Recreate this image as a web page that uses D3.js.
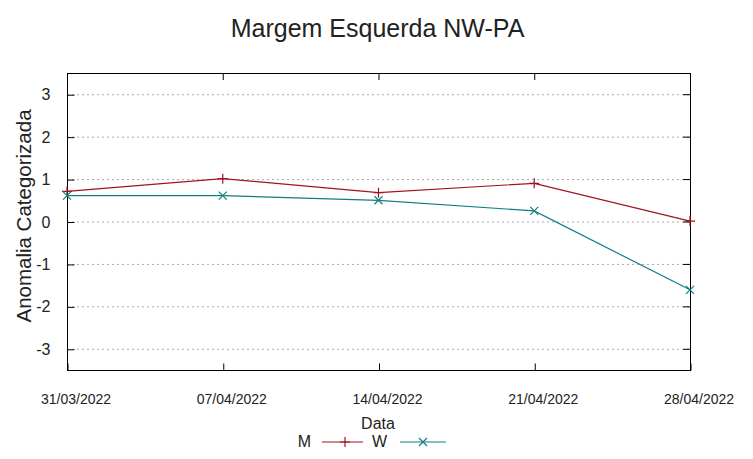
<!DOCTYPE html>
<html>
<head>
<meta charset="utf-8">
<script src="https://cdn.jsdelivr.net/npm/d3@7"></script>
<style>
body{margin:0;background:#fff;}
text{font-family:"Liberation Sans",Arial,sans-serif;fill:#222;}
</style>
</head>
<body>
<div id="grafico"></div>
<script>
// dados
const datas = ["31/03/2022","07/04/2022","14/04/2022","21/04/2022","28/04/2022"];
const serieM = [0.71, 1.01, 0.68, 0.90, 0.01];
const serieW = [0.61, 0.61, 0.50, 0.25, -1.61];
const yTicks = [-3,-2,-1,0,1,2,3];

const W = 753, H = 459;
const mg = {l:67, r:63, t:73, b:89};

const svg = d3.select("#grafico").append("svg").attr("width",W).attr("height",H);

const parse = d3.timeParse("%d/%m/%Y");
const x = d3.scaleTime().domain(d3.extent(datas, parse)).range([mg.l, W-mg.r]);
const y = d3.scaleLinear().domain([-3.5,3.5]).range([H-mg.b, mg.t]);

// grade horizontal
svg.append("g").selectAll("line").data(yTicks).join("line")
  .attr("x1",mg.l).attr("x2",W-mg.r)
  .attr("y1",d=>y(d)+0.5).attr("y2",d=>y(d)+0.5)
  .attr("stroke","#aaa").attr("stroke-dasharray","2,3");

// eixo y esquerdo e direito (ticks para dentro, estilo gnuplot)
const gy = svg.append("g").attr("transform","translate("+(mg.l+0.5)+",0.5)")
  .call(d3.axisLeft(y).tickValues(yTicks).tickSize(-7).tickPadding(17).tickFormat(d=>String(d)));
gy.select(".domain").remove();
gy.selectAll("text").attr("font-size",16).attr("font-family","Liberation Sans, Arial, sans-serif").attr("fill","#222");
gy.selectAll("line").attr("stroke","#000");

svg.append("g").selectAll("line").data(yTicks).join("line")
  .attr("x1",W-mg.r-7).attr("x2",W-mg.r).attr("y1",d=>y(d)+0.5).attr("y2",d=>y(d)+0.5).attr("stroke","#000");

// eixo x (rotulos um pouco deslocados para a direita, como no original)
const gx = svg.append("g").attr("transform","translate(0.5,"+(H-mg.b+0.5)+")")
  .call(d3.axisBottom(x).tickValues(datas.map(parse)).tickSize(-7).tickPadding(24).tickFormat(d3.timeFormat("%d/%m/%Y")));
gx.select(".domain").remove();
gx.selectAll("text").attr("dx",8).attr("font-size",14).attr("font-family","Liberation Sans, Arial, sans-serif").attr("fill","#222");
gx.selectAll("line").attr("stroke","#000");

svg.append("g").selectAll("line").data(datas).join("line")
  .attr("x1",d=>x(parse(d))+0.5).attr("x2",d=>x(parse(d))+0.5)
  .attr("y1",mg.t).attr("y2",mg.t+7).attr("stroke","#000");

// borda
svg.append("rect").attr("x",mg.l+0.5).attr("y",mg.t+0.5)
  .attr("width",W-mg.l-mg.r).attr("height",H-mg.t-mg.b)
  .attr("fill","none").attr("stroke","#000");

// series
const linha = d3.line().x((d,i)=>x(parse(datas[i]))).y(d=>y(d));
svg.append("path").datum(serieM).attr("d",linha).attr("fill","none").attr("stroke","#a0141e").attr("stroke-width",1.2);
svg.append("path").datum(serieW).attr("d",linha).attr("fill","none").attr("stroke","#107f80").attr("stroke-width",1.2);

function mais(g,cx,cy,cor){
  g.append("path").attr("d","M"+(cx-5)+","+cy+"h10M"+cx+","+(cy-5)+"v10").attr("stroke",cor).attr("stroke-width",1.2);
}
function xis(g,cx,cy,cor){
  g.append("path").attr("d","M"+(cx-4)+","+(cy-4)+"l8,8M"+(cx-4)+","+(cy+4)+"l8,-8").attr("stroke",cor).attr("stroke-width",1.2);
}
const marc = svg.append("g");
serieM.forEach((v,i)=>mais(marc,x(parse(datas[i])),y(v),"#a0141e"));
serieW.forEach((v,i)=>xis(marc,x(parse(datas[i])),y(v),"#107f80"));

// titulo e rotulos
svg.append("text").attr("x",W/2+1).attr("y",37).attr("text-anchor","middle").attr("font-size",25).text("Margem Esquerda NW-PA");
svg.append("text").attr("x",378).attr("y",429).attr("text-anchor","middle").attr("font-size",16).text("Data");
svg.append("text").attr("transform","translate(31,216) rotate(-90)").attr("text-anchor","middle").attr("font-size",20.5).text("Anomalia Categorizada");

// legenda
const leg = svg.append("g");
leg.append("text").attr("x",311).attr("y",447).attr("text-anchor","end").attr("font-size",16).text("M");
leg.append("line").attr("x1",322).attr("x2",363).attr("y1",442).attr("y2",442).attr("stroke","#a0141e").attr("stroke-width",1.2);
mais(leg,345,442,"#a0141e");
leg.append("text").attr("x",387).attr("y",447).attr("text-anchor","end").attr("font-size",16).text("W");
leg.append("line").attr("x1",400).attr("x2",446).attr("y1",442).attr("y2",442).attr("stroke","#107f80").attr("stroke-width",1.2);
xis(leg,423,442,"#107f80");
</script>
</body>
</html>
